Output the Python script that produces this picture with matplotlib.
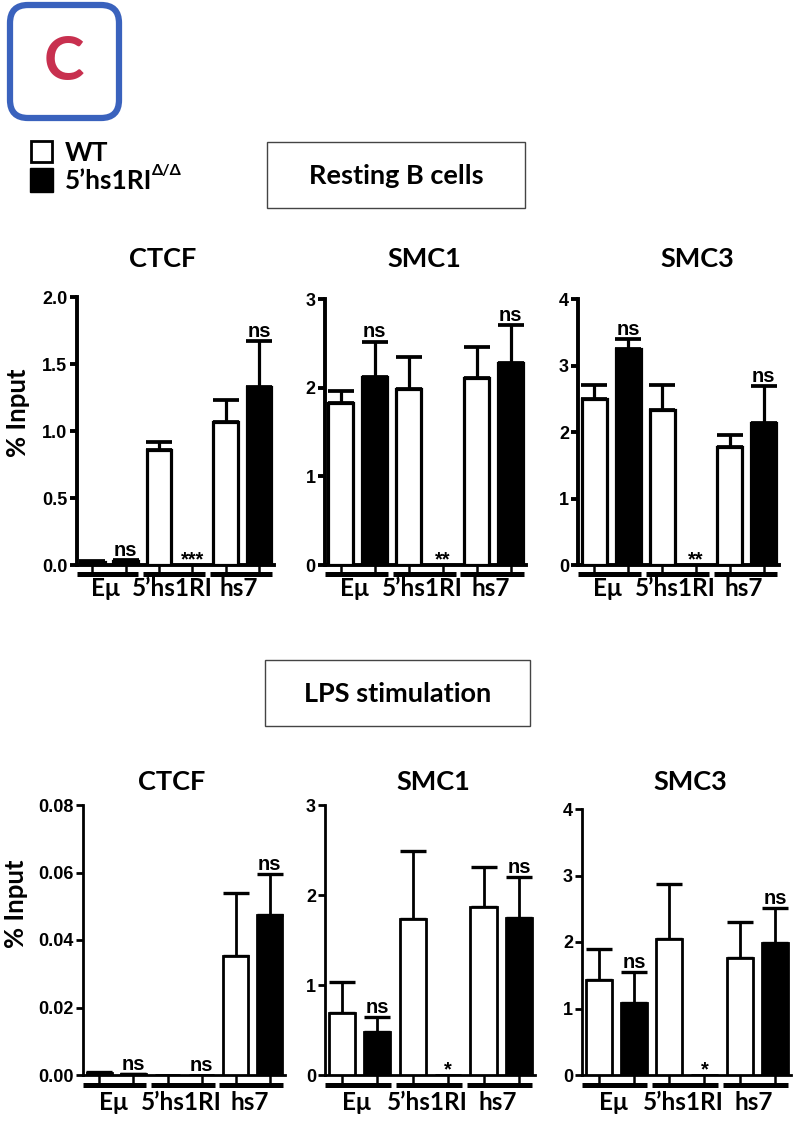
import numpy as np
import matplotlib
matplotlib.use("Agg")
from matplotlib import pyplot as plt
from matplotlib.transforms import offset_copy
from matplotlib.patches import FancyBboxPatch, Rectangle
from matplotlib.ticker import FormatStrFormatter

# ---- data (WT = white, 5'hs1RI del/del = black), upper SEM only ----
groups = ["Eμ", "5’hs1RI", "hs7"]

rest_ctcf_wt = [0.02, 0.86, 1.07]
rest_ctcf_wt_err = [0.01, 0.06, 0.16]
rest_ctcf_ko = [0.03, 0.0, 1.33]
rest_ctcf_ko_err = [0.005, 0.0, 0.34]
rest_ctcf_sig = ["ns", "***", "ns"]

rest_smc1_wt = [1.83, 1.99, 2.11]
rest_smc1_wt_err = [0.13, 0.36, 0.35]
rest_smc1_ko = [2.12, 0.0, 2.28]
rest_smc1_ko_err = [0.40, 0.0, 0.43]
rest_smc1_sig = ["ns", "**", "ns"]

rest_smc3_wt = [2.50, 2.33, 1.77]
rest_smc3_wt_err = [0.20, 0.38, 0.18]
rest_smc3_ko = [3.25, 0.0, 2.14]
rest_smc3_ko_err = [0.15, 0.0, 0.55]
rest_smc3_sig = ["ns", "**", "ns"]

lps_ctcf_wt = [0.0007, 0.0, 0.0353]
lps_ctcf_wt_err = [0.0003, 0.0, 0.0187]
lps_ctcf_ko = [0.0002, 0.0, 0.0475]
lps_ctcf_ko_err = [0.0001, 0.0, 0.012]
lps_ctcf_sig = ["ns", "ns", "ns"]

lps_smc1_wt = [0.685, 1.73, 1.87]
lps_smc1_wt_err = [0.345, 0.76, 0.44]
lps_smc1_ko = [0.48, 0.0, 1.74]
lps_smc1_ko_err = [0.16, 0.0, 0.46]
lps_smc1_sig = ["ns", "*", "ns"]

lps_smc3_wt = [1.43, 2.05, 1.76]
lps_smc3_wt_err = [0.46, 0.82, 0.54]
lps_smc3_ko = [1.09, 0.0, 1.98]
lps_smc3_ko_err = [0.46, 0.0, 0.53]
lps_smc3_sig = ["ns", "*", "ns"]

ctcf_ticks = [0.0, 0.5, 1.0, 1.5, 2.0]
smc1_ticks = [0, 1, 2, 3]
smc3_ticks = [0, 1, 2, 3, 4]
lps_ctcf_ticks = [0.0, 0.02, 0.04, 0.06, 0.08]

NARROW = ["Liberation Sans Narrow", "DejaVu Sans Condensed", "Liberation Sans", "DejaVu Sans"]
LATO = ["Lato", "DejaVu Sans"]

W, H = 796, 1134
fig = plt.figure(figsize=(W / 100, H / 100), dpi=100)

XMIN, XMAX = -0.48, 5.45


def add_axes_px(left, top, bottom, spacing):
    width = spacing * (XMAX - XMIN)
    return fig.add_axes([left / W, 1 - bottom / H, width / W, (bottom - top) / H])


def panel(ax, wt, wt_err, ko, ko_err, sig, ticks, fmt, lw, lw_axis, br_off, lab_off):
    x_wt = np.arange(3) * 2
    x_ko = x_wt + 1
    ax.bar(x_wt, wt, width=0.74, color="white", edgecolor="black", linewidth=lw, zorder=3)
    ax.bar(x_ko, ko, width=0.74, color="black", edgecolor="black", linewidth=lw, zorder=3)
    for xs, v, e in [(x_wt, wt, wt_err), (x_ko, ko, ko_err)]:
        v = np.array(v)
        e = np.array(e)
        m = e > 0
        ax.errorbar(xs[m], v[m], yerr=[np.zeros(m.sum()), e[m]], fmt="none",
                    ecolor="black", elinewidth=lw, capsize=9.5, capthick=lw + 0.4, zorder=2)
    for i in range(3):
        top = ko[i] + ko_err[i]
        pad = 3 if sig[i] == "ns" else 0
        ax.annotate(sig[i], (x_ko[i], top), xytext=(0, pad), textcoords="offset points",
                    ha="center", va="baseline", fontsize=14.5, fontweight="bold",
                    family=NARROW, zorder=4)

    ax.set_xlim(XMIN, XMAX)
    ax.set_ylim(0, ticks[-1])
    ax.set_yticks(ticks)
    ax.yaxis.set_major_formatter(FormatStrFormatter(fmt))
    for s in ["top", "right"]:
        ax.spines[s].set_visible(False)
    for s in ["left", "bottom"]:
        ax.spines[s].set_linewidth(lw_axis)
    ax.tick_params(axis="y", direction="out", length=5, width=lw_axis, pad=1.5)
    ax.set_xticks(np.arange(6))
    ax.set_xticklabels([])
    ax.tick_params(axis="x", direction="out", length=br_off * 0.72, width=1.8)
    for t in ax.get_yticklabels():
        t.set_family(NARROW)
        t.set_fontweight("bold")
        t.set_fontsize(13)

    tr_br = offset_copy(ax.get_xaxis_transform(), fig=fig, y=-br_off, units="dots")
    tr_lab = offset_copy(ax.get_xaxis_transform(), fig=fig, y=-lab_off, units="dots")
    for g in range(3):
        ax.plot([2 * g - 0.48, 2 * g + 1.38], [0, 0], color="black", lw=3.6,
                solid_capstyle="butt", transform=tr_br, clip_on=False)
        ax.text(2 * g + 0.4, 0, groups[g], transform=tr_lab, ha="center", va="center",
                fontsize=17.5, fontweight="bold", family=LATO)


# top row: resting B cells
ax1 = add_axes_px(76.5, 297, 565, 33.3)
panel(ax1, rest_ctcf_wt, rest_ctcf_wt_err, rest_ctcf_ko, rest_ctcf_ko_err, rest_ctcf_sig,
      ctcf_ticks, "%.1f", 2.3, 2.8, 9, 23)
ax2 = add_axes_px(324.5, 299, 565, 34)
panel(ax2, rest_smc1_wt, rest_smc1_wt_err, rest_smc1_ko, rest_smc1_ko_err, rest_smc1_sig,
      smc1_ticks, "%d", 2.3, 2.8, 9, 23)
ax3 = add_axes_px(578, 299, 565, 33.9)
panel(ax3, rest_smc3_wt, rest_smc3_wt_err, rest_smc3_ko, rest_smc3_ko_err, rest_smc3_sig,
      smc3_ticks, "%d", 2.3, 2.8, 9, 23)

# bottom row: LPS stimulation
ax4 = add_axes_px(83, 805, 1075, 34.1)
panel(ax4, lps_ctcf_wt, lps_ctcf_wt_err, lps_ctcf_ko, lps_ctcf_ko_err, lps_ctcf_sig,
      lps_ctcf_ticks, "%.2f", 2.0, 2.0, 10, 27)
ax5 = add_axes_px(325, 805, 1075, 35.4)
panel(ax5, lps_smc1_wt, lps_smc1_wt_err, lps_smc1_ko, lps_smc1_ko_err, lps_smc1_sig,
      smc1_ticks, "%d", 2.0, 2.0, 10, 27)
ax6 = add_axes_px(582, 809, 1075, 35.2)
panel(ax6, lps_smc3_wt, lps_smc3_wt_err, lps_smc3_ko, lps_smc3_ko_err, lps_smc3_sig,
      smc3_ticks, "%d", 2.0, 2.0, 10, 27)

# overlay in pixel coordinates for titles, boxes and legend
ov = fig.add_axes([0, 0, 1, 1], zorder=-1)
ov.set_xlim(0, W)
ov.set_ylim(H, 0)
ov.axis("off")

titles = ["CTCF", "SMC1", "SMC3"]
for t, x in zip(titles, [163, 424, 697]):
    ov.text(x, 259, t, ha="center", va="center", fontsize=19.5, fontweight="bold", family=LATO)
for t, x in zip(titles, [172, 433, 690]):
    ov.text(x, 782, t, ha="center", va="center", fontsize=19.5, fontweight="bold", family=LATO)

ov.text(18, 413, "% Input", rotation=90, ha="center", va="center", fontsize=18.5,
        fontweight="bold", family=LATO)
ov.text(16, 904, "% Input", rotation=90, ha="center", va="center", fontsize=18.5,
        fontweight="bold", family=LATO)

ov.add_patch(Rectangle((267, 142), 258, 66, facecolor="white", edgecolor="#444444", lw=1.0))
ov.text(396, 176, "Resting B cells", ha="center", va="center", fontsize=19.5,
        fontweight="bold", family=LATO)
ov.add_patch(Rectangle((265, 660), 265, 66, facecolor="white", edgecolor="#444444", lw=1.0))
ov.text(398, 694, "LPS stimulation", ha="center", va="center", fontsize=19.5,
        fontweight="bold", family=LATO)

# panel letter
ov.add_patch(FancyBboxPatch((10, 5), 109, 113, boxstyle="round,pad=0,rounding_size=18",
                            facecolor="white", edgecolor="#3a62bd", lw=4.5))
ov.text(64, 62, "C", ha="center", va="center", fontsize=44, fontweight="bold",
        color="#c8304f", family=LATO)

# legend
ov.add_patch(Rectangle((31, 141), 21, 21, facecolor="white", edgecolor="black", lw=2))
ov.add_patch(Rectangle((30, 168), 23, 24, facecolor="black", edgecolor="black", lw=1))
ov.text(65, 153, "WT", ha="left", va="center", fontsize=19, fontweight="bold", family=LATO)
lab = ov.text(65, 181, "5’hs1RI", ha="left", va="center", fontsize=19, fontweight="bold",
              family=LATO)
ov.annotate("Δ/Δ", xy=(1, 0.62), xycoords=lab, ha="left", va="bottom", fontsize=11.5,
            fontweight="bold", family=LATO)

fig.savefig("out.png", dpi=100)
